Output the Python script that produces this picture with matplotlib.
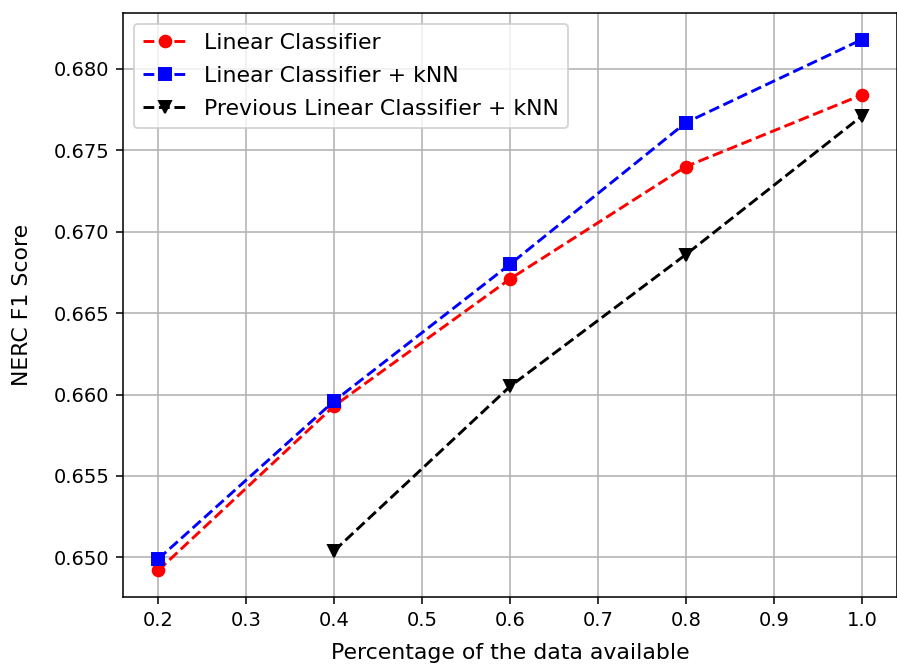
import matplotlib

matplotlib.use("Agg")
import matplotlib.pyplot as plt

# fraction of training data used
frac = [0.2, 0.4, 0.6, 0.8, 1.0]
frac_prev = [0.4, 0.6, 0.8, 1.0]

# NERC F1 scores
f1_linear = [0.6492, 0.6593, 0.6671, 0.6740, 0.6784]
f1_linear_knn = [0.6499, 0.6596, 0.6680, 0.6767, 0.6818]
f1_prev_knn = [0.6504, 0.6605, 0.6686, 0.6771]

fig = plt.figure(figsize=(897 / 140, 664 / 140), dpi=140)
ax = fig.add_axes([123 / 897, 1 - 597 / 664, (897 - 123) / 897, (597 - 13) / 664])

ax.plot(frac, f1_linear, "--o", color="red", label="Linear Classifier")
ax.plot(frac, f1_linear_knn, "--s", color="blue", label="Linear Classifier + kNN")
ax.plot(frac_prev, f1_prev_knn, "--v", color="black",
        label="Previous Linear Classifier + kNN")

ax.set_xlabel("Percentage of the data available", fontsize=11.3, labelpad=7)
ax.set_ylabel("NERC F1 Score", fontsize=11.3, labelpad=11)
ax.grid(True)
ax.legend(loc="upper left", fontsize=11.3, labelspacing=0.6)

fig.savefig("out.png", dpi=140)
